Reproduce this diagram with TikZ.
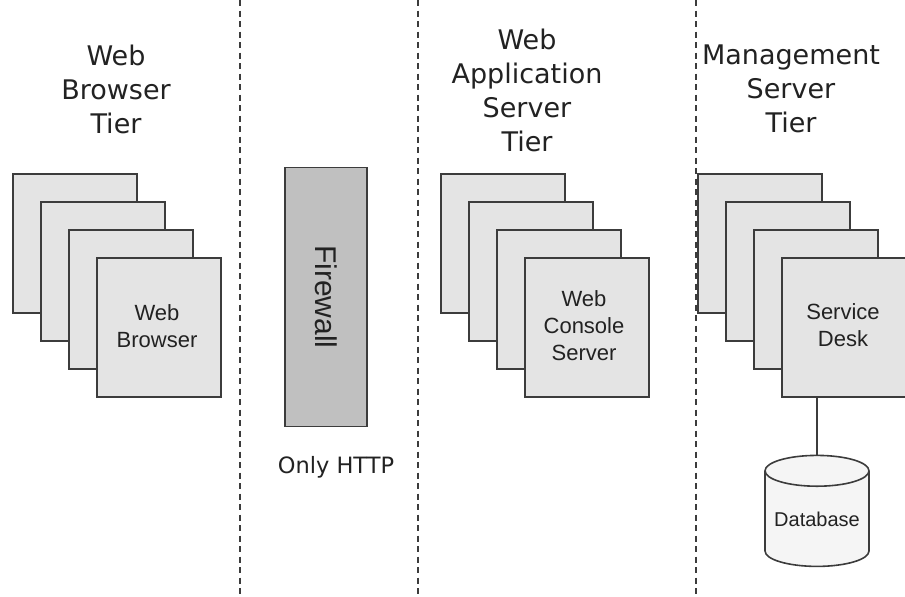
\documentclass[tikz,border=0pt]{standalone}
\usepackage{fontspec}
\setmainfont{Liberation Sans}
\newfontfamily\headfont{DejaVu Sans}
\usetikzlibrary{shapes.geometric}
\definecolor{edgegray}{HTML}{3C3C3C}
\definecolor{cardgray}{HTML}{E4E4E4}
\definecolor{wallgray}{HTML}{C0C0C0}
\definecolor{dbwhite}{HTML}{F5F5F5}
\definecolor{inkgray}{HTML}{222222}
\tikzset{
  card/.style={draw=edgegray, fill=cardgray, line width=1.6pt, rectangle,
    minimum width=124pt, minimum height=139pt, inner sep=0pt, anchor=north west},
  cardtext/.style={align=center, text=inkgray, font=\fontsize{22}{27}\selectfont},
  tierhead/.style={align=center, text=inkgray, font=\headfont\fontsize{27}{34}\selectfont},
  divider/.style={edgegray, line width=1.6pt, dash pattern=on 6pt off 4.5pt},
  link/.style={edgegray, line width=1.6pt}
}
\begin{document}
\begin{tikzpicture}[x=1pt, y=-1pt]
        \useasboundingbox (0,0) rectangle (905,597);
        % Tier separators
        \foreach \x in {240, 418, 696} {
          \draw[divider] (\x,0) -- (\x,597);
        }
        % Tier headings
        \node[tierhead] (brwhead) at (116,89) {Web\\Browser\\Tier};
        \node[tierhead] (webhead) at (527,90) {Web\\Application\\Server\\Tier};
        \node[tierhead] (mgthead) at (791,89) {Management\\Server\\Tier};
        % Stacked machines behind the front one
        \foreach \tier/\x in {brw/12, web/440, mgt/697} {
          \foreach \i in {1,2,3} {
            \node[card] (\tier\i) at ({\x+28*(\i-1)},{173+28*(\i-1)}) {};
          }
        }
        % Front machines
        \node[card] (brw4) at (96,257) {};
        \node[card] (web4) at (524,257) {};
        \node[card] (mgt4) at (781,257) {};
        \node[cardtext] (brwtext) at (157,326) {Web\\Browser};
        \node[cardtext] (webtext) at (584,326) {Web\\Console\\Server};
        \node[cardtext] (mgttext) at (843,325) {Service\\Desk};
        % Firewall
        \node[draw=edgegray, fill=wallgray, line width=1.6pt, minimum width=82pt,
          minimum height=259pt, inner sep=0pt] (wall) at (326,297) {};
        \node[rotate=-90, text=inkgray, font=\fontsize{30}{34}\selectfont] (walltext) at (wall) {Firewall};
        \node[text=inkgray, font=\headfont\fontsize{22.5}{27}\selectfont] (http) at (336,467) {Only HTTP};
        % Database
        \node[cylinder, shape border rotate=90, aspect=0.36, draw=edgegray, fill=dbwhite,
          line width=1.6pt, minimum width=104pt, minimum height=111pt, inner sep=0pt,
          text=inkgray, font=\fontsize{20}{24}\selectfont] (db) at (817,519) {Database};
        \draw[link] (mgt4.south -| db.north) -- (db.north);
      \end{tikzpicture}
\end{document}
